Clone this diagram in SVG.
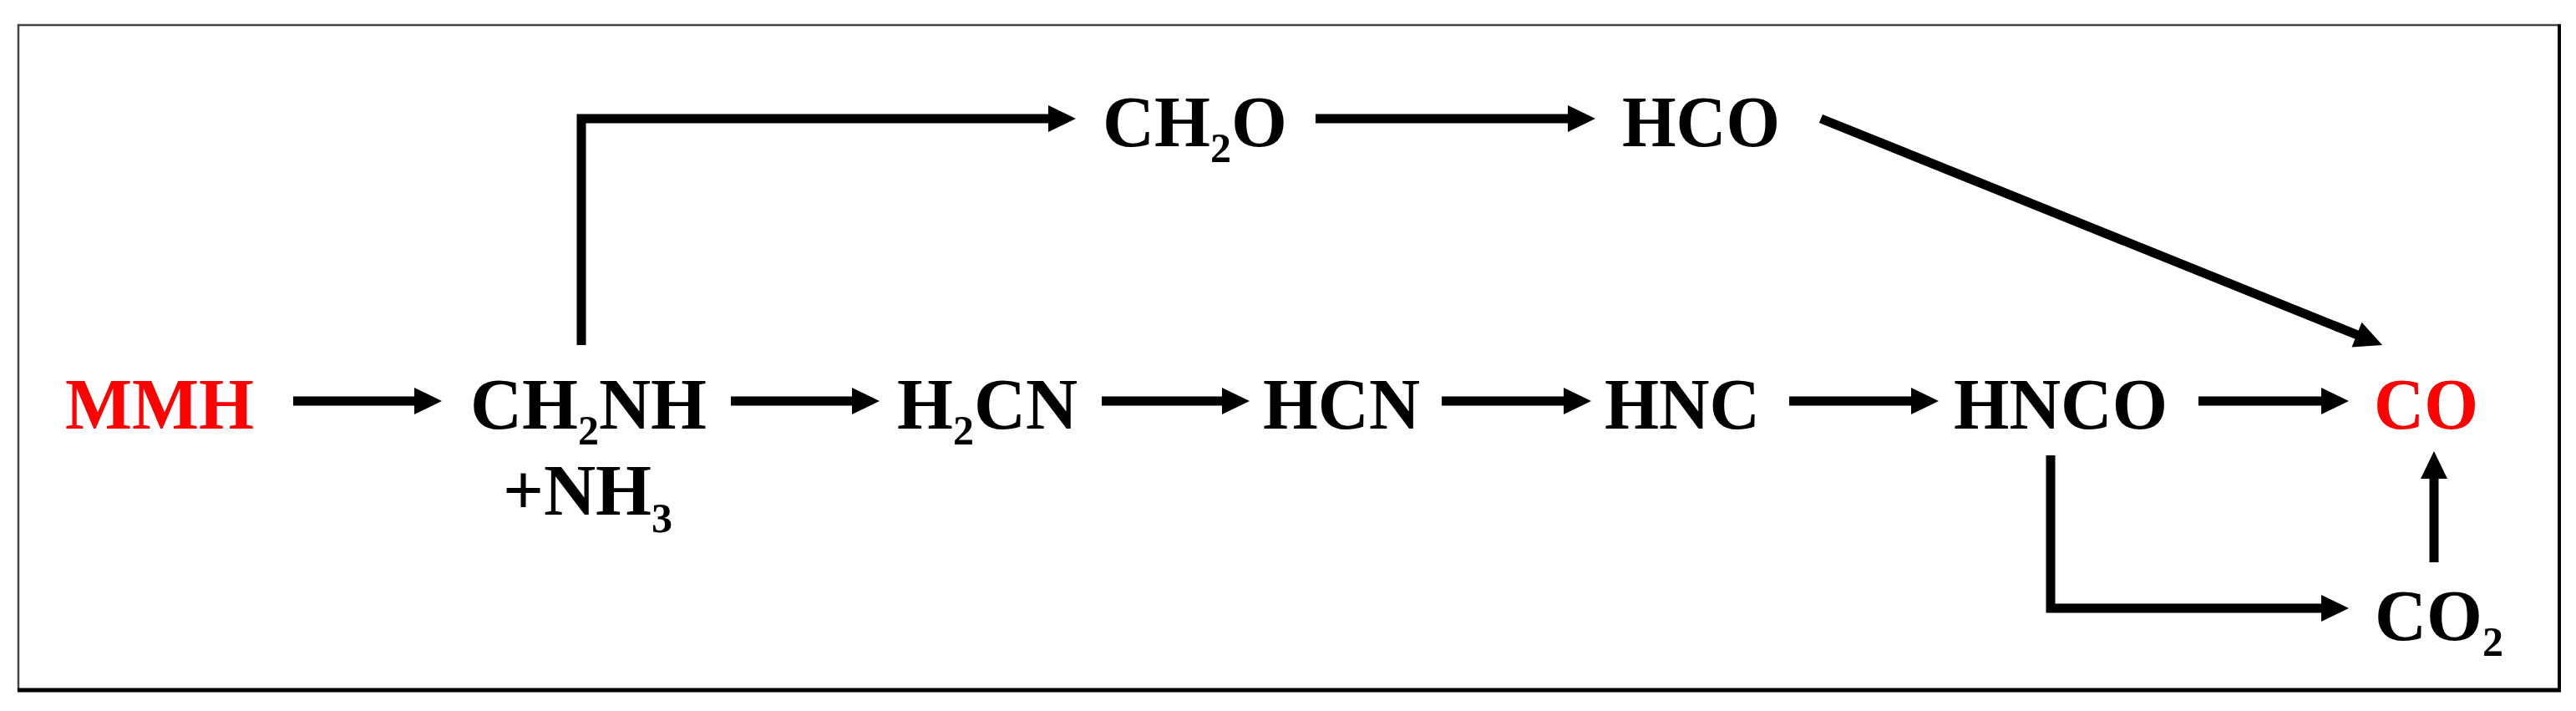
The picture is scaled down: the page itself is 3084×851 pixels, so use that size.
<svg xmlns="http://www.w3.org/2000/svg" width="3084" height="851" viewBox="0 0 3084 851">
<style>
.t{font-family:"Liberation Serif","Times New Roman",serif;font-weight:bold;font-size:86px;fill:#000}
.red{fill:#ff0000}
.s{font-size:50px}
.c{fill:none;stroke:#000;stroke-width:11;stroke-linejoin:miter;stroke-linecap:butt}
</style>
<defs>
<marker id="ah" markerUnits="userSpaceOnUse" markerWidth="33" markerHeight="32" viewBox="0 0 33 32" refX="21" refY="16" orient="auto" overflow="visible">
<path d="M0,0 L33,16 L0,32 z" fill="#000"/>
</marker>
</defs>
<rect width="3084" height="851" fill="#fff"/>
<g id="frame">
<rect x="22" y="30" width="3042" height="796" fill="none" stroke="#444" stroke-width="2.5"/>
<line x1="21" y1="826" x2="3066" y2="826" stroke="#000" stroke-width="5"/>
<line x1="3064" y1="29" x2="3064" y2="828" stroke="#000" stroke-width="4"/>
</g>
<g id="connectors">
<line class="c" x1="351" y1="480" x2="517" y2="480" marker-end="url(#ah)"/>
<line class="c" x1="875" y1="480" x2="1041" y2="480" marker-end="url(#ah)"/>
<line class="c" x1="1319" y1="480" x2="1484" y2="480" marker-end="url(#ah)"/>
<line class="c" x1="1726" y1="480" x2="1893" y2="480" marker-end="url(#ah)"/>
<line class="c" x1="2142" y1="480" x2="2309" y2="480" marker-end="url(#ah)"/>
<line class="c" x1="2632" y1="480" x2="2800" y2="480" marker-end="url(#ah)"/>
<path class="c" d="M696,413 V142 H1276" marker-end="url(#ah)"/>
<line class="c" x1="1575" y1="142" x2="1898" y2="142" marker-end="url(#ah)"/>
<line class="c" x1="2180" y1="142" x2="2841" y2="408.5" marker-end="url(#ah)"/>
<path class="c" d="M2455,545 V728 H2800" marker-end="url(#ah)"/>
<line class="c" x1="2914" y1="673" x2="2914" y2="552" marker-end="url(#ah)"/>
</g>
<g id="MMH"><text class="t red" x="78" y="513" textLength="226" lengthAdjust="spacingAndGlyphs">MMH</text></g>
<g id="CH2NH">
<text class="t" x="563" y="513">CH<tspan class="s" dy="19">2</tspan><tspan dy="-19">NH</tspan></text>
<text class="t" x="602" y="616">+NH<tspan class="s" dy="21">3</tspan></text>
</g>
<g id="H2CN"><text class="t" x="1074" y="513">H<tspan class="s" dy="19">2</tspan><tspan dy="-19">CN</tspan></text></g>
<g id="HCN"><text class="t" x="1512" y="513" textLength="188" lengthAdjust="spacingAndGlyphs">HCN</text></g>
<g id="HNC"><text class="t" x="1921" y="513" textLength="186" lengthAdjust="spacingAndGlyphs">HNC</text></g>
<g id="HNCO"><text class="t" x="2339" y="513" textLength="256" lengthAdjust="spacingAndGlyphs">HNCO</text></g>
<g id="CO"><text class="t red" x="2842" y="513" textLength="125" lengthAdjust="spacingAndGlyphs">CO</text></g>
<g id="CO2"><text class="t" x="2843" y="766">CO<tspan class="s" dy="19">2</tspan></text></g>
<g id="CH2O"><text class="t" x="1320" y="175">CH<tspan class="s" dy="19">2</tspan><tspan dy="-19">O</tspan></text></g>
<g id="HCO"><text class="t" x="1942" y="175" textLength="189" lengthAdjust="spacingAndGlyphs">HCO</text></g>
</svg>
